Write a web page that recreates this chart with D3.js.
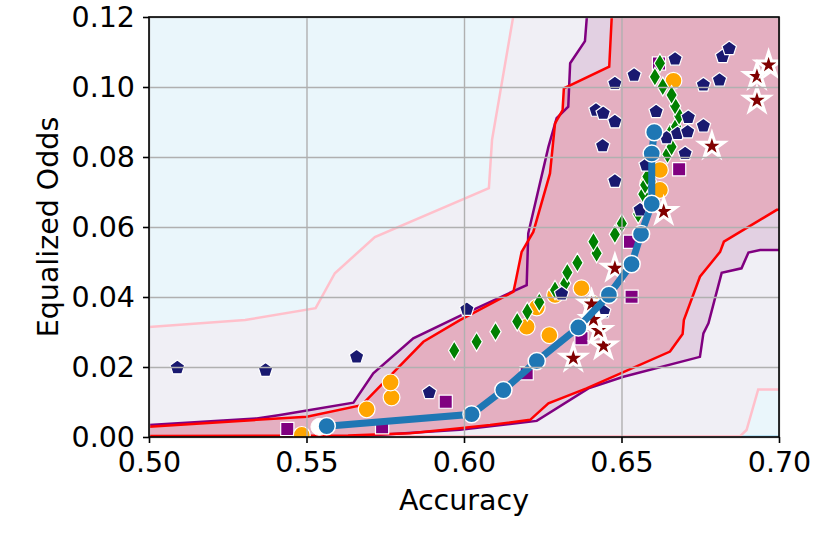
<!DOCTYPE html>
<html>
<head>
<meta charset="utf-8">
<title>Accuracy vs Equalized Odds</title>
<script src="https://d3js.org/d3.v7.min.js"></script>
<style>
  html, body { margin: 0; background: #fff; overflow: hidden; }
  text { font-family: "DejaVu Sans", sans-serif; }
</style>
</head>
<body>
<svg id="chart" width="830" height="534"></svg>
<script>
// axes
const xTicks = [0.50, 0.55, 0.60, 0.65, 0.70];
const yTicks = [0.00, 0.02, 0.04, 0.06, 0.08, 0.10, 0.12];

// band boundaries [accuracy, equalized odds]
const pinkUpper = [[0.5, 0.0314], [0.5305, 0.0334], [0.5529, 0.0368], [0.559, 0.0468], [0.5717, 0.0571],
  [0.6079, 0.0711], [0.6089, 0.0849], [0.6156, 0.1200]];
const pinkLower = [[0.5, 0.0002], [0.6876, 0.0002], [0.6897, 0.0020], [0.6934, 0.0136], [0.70, 0.0136]];
const skyLine = [[0.6876, 0.0], [0.70, 0.0]];

const purpleUpper = [[0.5, 0.0034], [0.5342, 0.0053], [0.5416, 0.0063], [0.5649, 0.0098], [0.5712, 0.0182],
  [0.5839, 0.0282], [0.5987, 0.0346], [0.6199, 0.0434], [0.6204, 0.0582], [0.6268, 0.0829], [0.6294, 0.0911],
  [0.6331, 0.0944], [0.6337, 0.1068], [0.6384, 0.1131], [0.6390, 0.1200]];
const purpleLower = [[0.5, 0.0001], [0.5638, 0.0001], [0.5987, 0.0021], [0.6231, 0.0046], [0.6395, 0.0139],
  [0.6506, 0.0172], [0.6749, 0.0229], [0.6760, 0.0296], [0.6776, 0.0325], [0.6818, 0.0469], [0.6881, 0.0482],
  [0.6903, 0.0527], [0.6940, 0.0534], [0.70, 0.0534]];

const redUpper = [[0.5, 0.0029], [0.5342, 0.0049], [0.5501, 0.0058], [0.5675, 0.0091], [0.5871, 0.0272],
  [0.5987, 0.0334], [0.6157, 0.0415], [0.6165, 0.0449], [0.6183, 0.0529], [0.6220, 0.0586], [0.6273, 0.0753],
  [0.6289, 0.0896], [0.6313, 0.0934], [0.6317, 0.0996], [0.6461, 0.1058], [0.6469, 0.1200]];
const redLower = [[0.5, 0.0003], [0.5632, 0.0004], [0.5829, 0.0011], [0.5987, 0.0025], [0.6083, 0.0034],
  [0.6210, 0.0049], [0.6268, 0.0096], [0.6389, 0.0139], [0.6654, 0.0244], [0.6694, 0.0294], [0.6698, 0.0334],
  [0.6749, 0.0458], [0.6813, 0.0529], [0.6825, 0.0558], [0.6993, 0.0649], [0.70, 0.0649]];

// scatter series
const squarePts = [[0.5439, 0.0023], [0.5740, 0.0028], [0.5942, 0.0101], [0.6199, 0.0182], [0.6373, 0.0282],
  [0.6532, 0.0401], [0.6527, 0.0558], [0.6683, 0.0765], [0.6619, 0.1067]];
const orangePts = [[0.5485, 0.0006], [0.5691, 0.0079], [0.5770, 0.0113], [0.5767, 0.0156], [0.6199, 0.0315],
  [0.6271, 0.0291], [0.6231, 0.0370], [0.6289, 0.0406], [0.6373, 0.0425], [0.6406, 0.0382], [0.6585, 0.0725],
  [0.6622, 0.0763], [0.6622, 0.0706], [0.6665, 0.1018]];
const diamondPts = [[0.5969, 0.0247], [0.6040, 0.0272], [0.6100, 0.0301], [0.6169, 0.0330], [0.6201, 0.0358],
  [0.6239, 0.0385], [0.6289, 0.0420], [0.6321, 0.0439], [0.6328, 0.0470], [0.6360, 0.0498], [0.6421, 0.0525],
  [0.6411, 0.0558], [0.6479, 0.0579], [0.6501, 0.0610], [0.6553, 0.0637], [0.6569, 0.0694], [0.6575, 0.0720],
  [0.6582, 0.0744], [0.6646, 0.0808], [0.6659, 0.0829], [0.6654, 0.0868], [0.6673, 0.0887], [0.6683, 0.0917],
  [0.6670, 0.0946], [0.6659, 0.0977], [0.6631, 0.1001], [0.6606, 0.1029], [0.6622, 0.1068]];
const pentagonPts = [[0.5090, 0.0198], [0.5370, 0.0191], [0.5659, 0.0229], [0.5890, 0.0127], [0.6009, 0.0365],
  [0.6310, 0.0409], [0.6443, 0.0358], [0.6559, 0.0649], [0.6578, 0.0777], [0.6440, 0.0832], [0.6479, 0.0731],
  [0.6419, 0.0934], [0.6442, 0.0925], [0.6479, 0.0901], [0.6479, 0.1010], [0.6540, 0.1034], [0.6610, 0.0930],
  [0.6670, 0.1080], [0.6643, 0.0855], [0.6678, 0.0867], [0.6710, 0.0872], [0.6712, 0.0913], [0.6760, 0.0889],
  [0.6702, 0.0810], [0.6760, 0.1006], [0.6811, 0.1020], [0.6821, 0.1087], [0.6842, 0.1110]];
const starPts = [[0.6347, 0.0225], [0.6443, 0.0260], [0.6427, 0.0304], [0.6411, 0.0336], [0.6405, 0.0380],
  [0.6479, 0.0482], [0.6634, 0.0644], [0.6787, 0.0831], [0.6930, 0.0962], [0.6930, 0.1030], [0.6967, 0.1063]];
const whitePts = [[0.5541, 0.0029]];
const paretoFront = [[0.5564, 0.0031], [0.6024, 0.0065], [0.6125, 0.0134], [0.6231, 0.0217], [0.6363, 0.0313],
  [0.6460, 0.0406], [0.6532, 0.0494], [0.6562, 0.0580], [0.6596, 0.0666], [0.6596, 0.0810], [0.6604, 0.0871]];

const margin = { top: 17, right: 51, bottom: 97, left: 149 };
const width = 830 - margin.left - margin.right;
const height = 534 - margin.top - margin.bottom;
const fontSize = 28.5;

const x = d3.scaleLinear().domain([0.5, 0.7]).range([0, width]);
const y = d3.scaleLinear().domain([0, 0.12]).range([height, 0]);
const fmt = d3.format(".2f");

const svg = d3.select("#chart");
const g = svg.append("g").attr("transform", `translate(${margin.left},${margin.top})`);

g.append("clipPath").attr("id", "plot-clip")
  .append("rect").attr("width", width).attr("height", height);

g.append("rect").attr("width", width).attr("height", height).attr("fill", "#eaf6fb");

const plot = g.append("g").attr("clip-path", "url(#plot-clip)");
const line = d3.line().x(d => x(d[0])).y(d => y(d[1]));

// polygon between an upper and a lower boundary, closed past the top-right corner
function band(upper, lower) {
  const top = y.domain()[1] * 1.2, right = x.domain()[1] * 1.02;
  const last = upper[upper.length - 1];
  return upper.concat([[last[0], top], [right, top], [right, lower[lower.length - 1][1]]], lower.slice().reverse());
}

plot.append("path").attr("d", line(band(pinkUpper, pinkLower)) + "Z").attr("fill", "#f0eff5");
plot.append("path").attr("d", line(skyLine)).attr("fill", "none").attr("stroke", "#8ccbe8").attr("stroke-width", 3);
[pinkUpper, pinkLower].forEach(p => plot.append("path").attr("d", line(p))
  .attr("fill", "none").attr("stroke", "#ffc0cb").attr("stroke-width", 2.5));

plot.append("path").attr("d", line(band(purpleUpper, purpleLower)) + "Z").attr("fill", "#e2d0e2");
plot.append("path").attr("d", line(band(redUpper, redLower)) + "Z").attr("fill", "#e4afc1");
[purpleUpper, purpleLower].forEach(p => plot.append("path").attr("d", line(p))
  .attr("fill", "none").attr("stroke", "#800080").attr("stroke-width", 2.5));
[redUpper, redLower].forEach(p => plot.append("path").attr("d", line(p))
  .attr("fill", "none").attr("stroke", "#ff0000").attr("stroke-width", 2.5));

// grid
g.append("g").attr("transform", `translate(0,${height})`)
  .call(d3.axisBottom(x).tickValues(xTicks).tickSize(-height).tickFormat(""))
  .call(a => a.select(".domain").remove())
  .selectAll("line").attr("stroke", "#b0b0b0").attr("stroke-width", 1.4);
g.append("g")
  .call(d3.axisLeft(y).tickValues(yTicks).tickSize(-width).tickFormat(""))
  .call(a => a.select(".domain").remove())
  .selectAll("line").attr("stroke", "#b0b0b0").attr("stroke-width", 1.4);

// marker shapes
function polygonPath(pts) { return "M" + pts.map(p => p.join(",")).join("L") + "Z"; }
function pentagon(r) {
  return polygonPath(d3.range(5).map(k => {
    const a = -Math.PI / 2 + k * 2 * Math.PI / 5;
    return [r * Math.cos(a), r * Math.sin(a)];
  }));
}
function star(r) {
  return polygonPath(d3.range(10).map(k => {
    const a = -Math.PI / 2 + k * Math.PI / 5, rr = k % 2 ? r * 0.382 : r;
    return [rr * Math.cos(a), rr * Math.sin(a)];
  }));
}
function thinDiamond(h) { return polygonPath([[0, -h], [0.6 * h, 0], [0, h], [-0.6 * h, 0]]); }
function square(s) { return polygonPath([[-s, -s], [s, -s], [s, s], [-s, s]]); }

function markers(data, d, fill, sw) {
  plot.append("g").selectAll("path").data(data).join("path")
    .attr("transform", p => `translate(${x(p[0])},${y(p[1])})`)
    .attr("d", d).attr("fill", fill).attr("stroke", "#fff").attr("stroke-width", sw)
    .attr("stroke-linejoin", "miter");
}

markers(squarePts, square(6.6), "#800080", 1.2);
plot.append("g").selectAll("circle").data(orangePts).join("circle")
  .attr("cx", p => x(p[0])).attr("cy", p => y(p[1])).attr("r", 8.4)
  .attr("fill", "#ffa500").attr("stroke", "#fff").attr("stroke-width", 1.2);
markers(diamondPts, thinDiamond(9.5), "#008000", 1.2);
markers(pentagonPts, pentagon(7.6), "#191970", 1.2);
markers(starPts, star(13), "#800000", 3);

plot.append("g").selectAll("circle").data(whitePts).join("circle")
  .attr("cx", p => x(p[0])).attr("cy", p => y(p[1])).attr("r", 8.5)
  .attr("fill", "#fff").attr("stroke", "#fff");

plot.append("path").attr("d", line(paretoFront)).attr("fill", "none")
  .attr("stroke", "#1f77b4").attr("stroke-width", 7);
plot.append("g").selectAll("circle").data(paretoFront).join("circle")
  .attr("cx", p => x(p[0])).attr("cy", p => y(p[1])).attr("r", 8.6)
  .attr("fill", "#1f77b4").attr("stroke", "#fff").attr("stroke-width", 1.5);

// frame + axes
g.append("rect").attr("width", width).attr("height", height)
  .attr("fill", "none").attr("stroke", "#000").attr("stroke-width", 1.6);

const xAxis = g.append("g").attr("transform", `translate(0,${height})`)
  .call(d3.axisBottom(x).tickValues(xTicks).tickFormat(fmt).tickSize(6).tickPadding(9));
const yAxis = g.append("g")
  .call(d3.axisLeft(y).tickValues(yTicks).tickFormat(fmt).tickSize(6).tickPadding(8));
[xAxis, yAxis].forEach(a => {
  a.select(".domain").remove();
  a.selectAll("line").attr("stroke", "#000").attr("stroke-width", 1.6);
  a.selectAll("text").attr("font-size", fontSize).attr("font-family", "DejaVu Sans").attr("fill", "#000");
});

svg.append("text").attr("x", margin.left + width / 2).attr("y", 510)
  .attr("text-anchor", "middle").attr("font-size", fontSize).text("Accuracy");
svg.append("text").attr("transform", `translate(58,${margin.top + height / 2}) rotate(-90)`)
  .attr("text-anchor", "middle").attr("font-size", fontSize).text("Equalized Odds");
</script>
</body>
</html>
